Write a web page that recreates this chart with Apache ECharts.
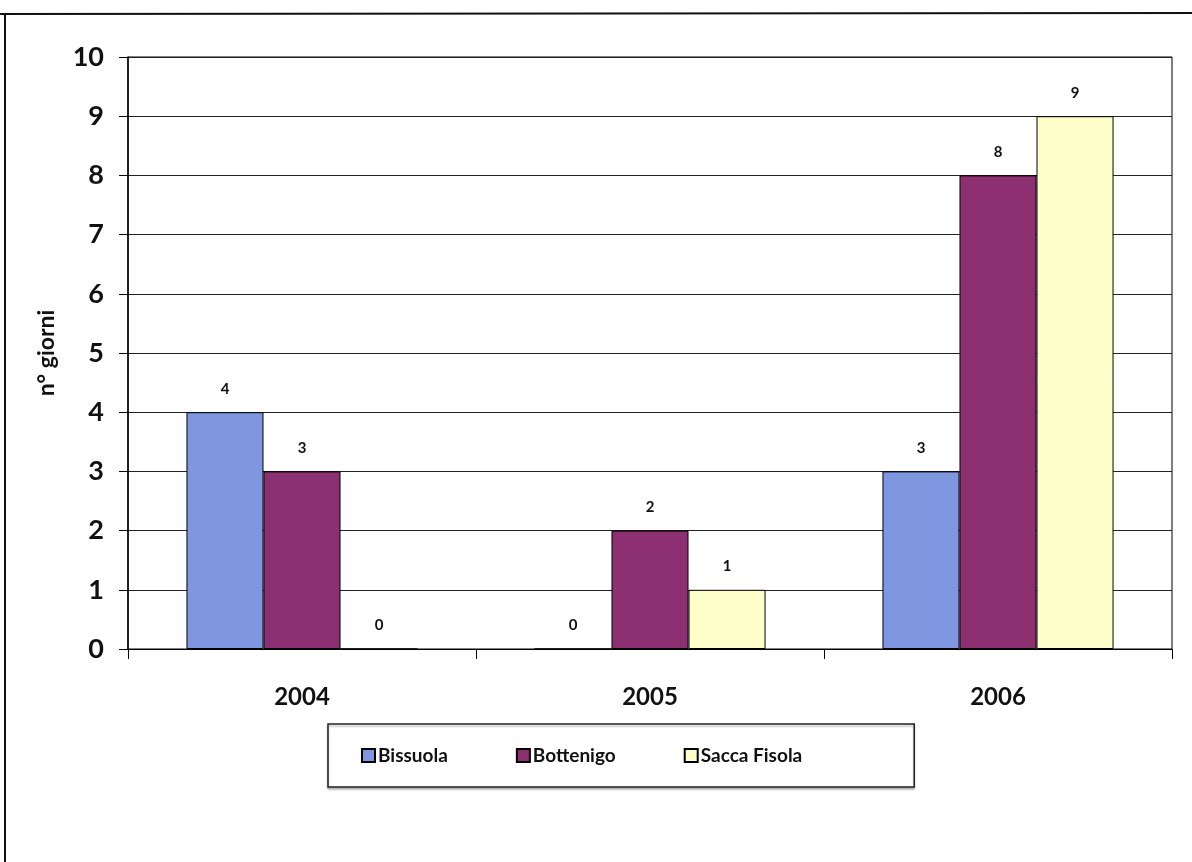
<!DOCTYPE html>
<html>
<head>
<meta charset="utf-8">
<title>n° giorni</title>
<script src="https://cdn.jsdelivr.net/npm/echarts@6/dist/echarts.min.js"></script>
<style>
  html, body { margin: 0; padding: 0; background: #ffffff; }
  #chart { width: 1192px; height: 862px; }
</style>
</head>
<body>
<div id="chart"></div>
<script>
// Years on the category axis
const years = ['2004', '2005', '2006'];

// Number of days per monitoring station
const bissuola = [4, 0, 3];
const bottenigo = [3, 2, 8];
const saccaFisola = [0, 1, 9];

// Value axis ticks
const yTicks = [0, 1, 2, 3, 4, 5, 6, 7, 8, 9, 10];

const FONT = 'Lato, "Open Sans", sans-serif';

const labelStyle = {
  show: true,
  position: 'top',
  distance: 16,
  color: '#111',
  fontFamily: FONT,
  fontWeight: 'bold',
  fontSize: 15
};

function barSeries(name, data, color) {
  return {
    name: name,
    type: 'bar',
    data: data,
    barGap: '0%',
    barCategoryGap: '33.6%',
    itemStyle: { color: color, borderColor: '#000', borderWidth: 1 },
    label: labelStyle
  };
}

const chart = echarts.init(document.getElementById('chart'), null, { renderer: 'canvas' });

chart.setOption({
  backgroundColor: '#ffffff',
  animation: false,
  grid: {
    left: 128,
    top: 57,
    width: 1044,
    height: 592,
    show: true,
    borderColor: '#000',
    borderWidth: 1,
    containLabel: false
  },
  legend: {
    left: 328,
    top: 724,
    padding: [22, 112, 22, 33],
    itemGap: 68,
    itemWidth: 13,
    itemHeight: 13,
    borderColor: '#222',
    borderWidth: 1.5,
    shadowColor: 'rgba(0,0,0,0.25)',
    shadowOffsetY: 2,
    shadowBlur: 2,
    backgroundColor: '#fff',
    icon: 'rect',
    textStyle: { fontFamily: FONT, fontWeight: 'bold', fontSize: 19, color: '#111', padding: [0, 0, 0, -2] },
    data: ['Bissuola', 'Bottenigo', 'Sacca Fisola']
  },
  xAxis: {
    type: 'category',
    data: years,
    axisLine: { lineStyle: { color: '#000', width: 1 } },
    axisTick: { show: true, alignWithLabel: false, length: 10, lineStyle: { color: '#000' } },
    axisLabel: {
      margin: 36,
      color: '#111',
      fontFamily: FONT,
      fontWeight: 'bold',
      fontSize: 24
    }
  },
  yAxis: {
    type: 'value',
    min: yTicks[0],
    max: yTicks[yTicks.length - 1],
    interval: 1,
    name: 'n° giorni',
    nameLocation: 'middle',
    nameGap: 70,
    nameRotate: 90,
    nameTextStyle: { color: '#111', fontFamily: FONT, fontWeight: 'bold', fontSize: 23 },
    axisLine: { show: true, lineStyle: { color: '#000', width: 1.5 } },
    axisTick: { show: true, length: 9, lineStyle: { color: '#000' } },
    splitLine: { show: true, lineStyle: { color: '#222', width: 1 } },
    axisLabel: {
      margin: 24,
      color: '#111',
      fontFamily: FONT,
      fontWeight: 'bold',
      fontSize: 27
    }
  },
  series: [
    barSeries('Bissuola', bissuola, '#7f97e0'),
    barSeries('Bottenigo', bottenigo, '#8c3071'),
    barSeries('Sacca Fisola', saccaFisola, '#ffffcc')
  ],
  graphic: [
    // page frame: top rule and left rule
    { type: 'line', shape: { x1: 0, y1: 14, x2: 1192, y2: 13 }, style: { stroke: '#111', lineWidth: 2 } },
    { type: 'line', shape: { x1: 5, y1: 14, x2: 5, y2: 862 }, style: { stroke: '#111', lineWidth: 2 } }
  ]
});
</script>
</body>
</html>
